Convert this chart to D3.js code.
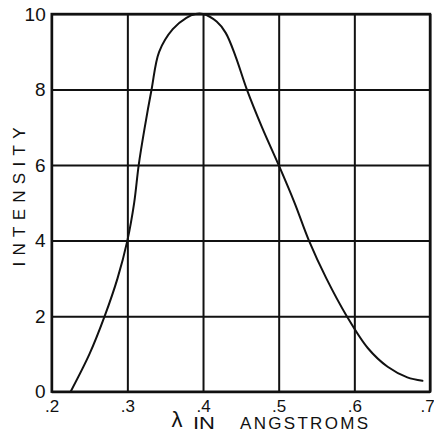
<!DOCTYPE html>
<html>
<head>
<meta charset="utf-8">
<script src="https://cdn.jsdelivr.net/npm/d3@7"></script>
<style>
  html, body { margin: 0; padding: 0; background: #fff; }
  svg { display: block; }
  text { font-family: "Liberation Sans", "DejaVu Sans", sans-serif; fill: #111; }
</style>
</head>
<body>
<svg id="chart" width="434" height="433"></svg>
<script>
// ---- data ----
const wavelength = [0.225, 0.25, 0.27, 0.287, 0.30, 0.309, 0.315, 0.323, 0.332, 0.342, 0.36, 0.378, 0.39, 0.40, 0.418, 0.43, 0.443, 0.458, 0.478, 0.50, 0.521, 0.54, 0.563, 0.59, 0.618, 0.644, 0.67, 0.69];
const intensity  = [0, 1, 2, 3, 4, 5, 6, 7, 8, 9, 9.6, 9.9, 10, 10, 9.8, 9.5, 8.88, 8, 7, 6, 5, 4, 3, 2, 1.15, 0.66, 0.38, 0.29];
const xTicks = [0.2, 0.3, 0.4, 0.5, 0.6, 0.7];
const xTickLabels = [".2", ".3", ".4", ".5", ".6", ".7"];
const yTicks = [0, 2, 4, 6, 8, 10];
const yTickLabels = ["0", "2", "4", "6", "8", "10"];
const xTitleSymbol = "λ";
const xTitle1 = "IN";
const xTitle2 = "ANGSTROMS";
const yTitle = "INTENSITY";

const svg = d3.select("#chart");
const L = 51.7, R = 430, T = 14, B = 391.7;
const x = d3.scaleLinear().domain([0.2, 0.7]).range([L, R]);
const y = d3.scaleLinear().domain([0, 10]).range([B, T]);
const ink = "#111";

// y grid + labels
const gy = svg.append("g").attr("transform", `translate(${L},0)`)
  .call(d3.axisLeft(y).tickValues(yTicks).tickSize(-(R - L)).tickPadding(6)
    .tickFormat((d, i) => yTickLabels[i]));
gy.select(".domain").remove();
gy.selectAll(".tick line").attr("stroke", ink).attr("stroke-width", 2);
gy.selectAll(".tick text").attr("font-size", 19).attr("fill", ink).style("font-family", "Liberation Sans, sans-serif");

// x grid + labels
const gx = svg.append("g").attr("transform", `translate(0,${B})`)
  .call(d3.axisBottom(x).tickValues(xTicks).tickSize(-(B - T)).tickPadding(8)
    .tickFormat((d, i) => xTickLabels[i]));
gx.select(".domain").remove();
gx.selectAll(".tick line").attr("stroke", ink).attr("stroke-width", 2);
gx.selectAll(".tick text").attr("font-size", 17).attr("fill", ink).style("font-family", "Liberation Sans, sans-serif");
// keep the last label inside the page
gx.selectAll(".tick text").filter((d, i) => i === xTicks.length - 1).attr("dx", -3);

// frame
svg.append("rect").attr("x", L).attr("y", T).attr("width", R - L).attr("height", B - T)
  .attr("fill", "none").attr("stroke", ink).attr("stroke-width", 2.4);

// curve
const pts = wavelength.map((w, i) => [w, intensity[i]]);
svg.append("path").datum(pts)
  .attr("fill", "none").attr("stroke", ink).attr("stroke-width", 2)
  .attr("stroke-linecap", "round")
  .attr("d", d3.line().x(d => x(d[0])).y(d => y(d[1])).curve(d3.curveCatmullRom.alpha(0.5)));

// axis titles
svg.append("text").attr("x", 177).attr("y", 427).attr("text-anchor", "middle")
  .attr("font-size", 22).text(xTitleSymbol);
svg.append("text").attr("x", 193).attr("y", 429).attr("font-size", 17)
  .attr("textLength", 22).attr("lengthAdjust", "spacingAndGlyphs").text(xTitle1);
svg.append("text").attr("x", 240).attr("y", 429).attr("font-size", 17)
  .attr("textLength", 128).attr("lengthAdjust", "spacing").text(xTitle2);
svg.append("text").attr("transform", "translate(25,197) rotate(-90)")
  .attr("text-anchor", "middle").attr("font-size", 17)
  .attr("textLength", 139).attr("lengthAdjust", "spacing").text(yTitle);
</script>
</body>
</html>
